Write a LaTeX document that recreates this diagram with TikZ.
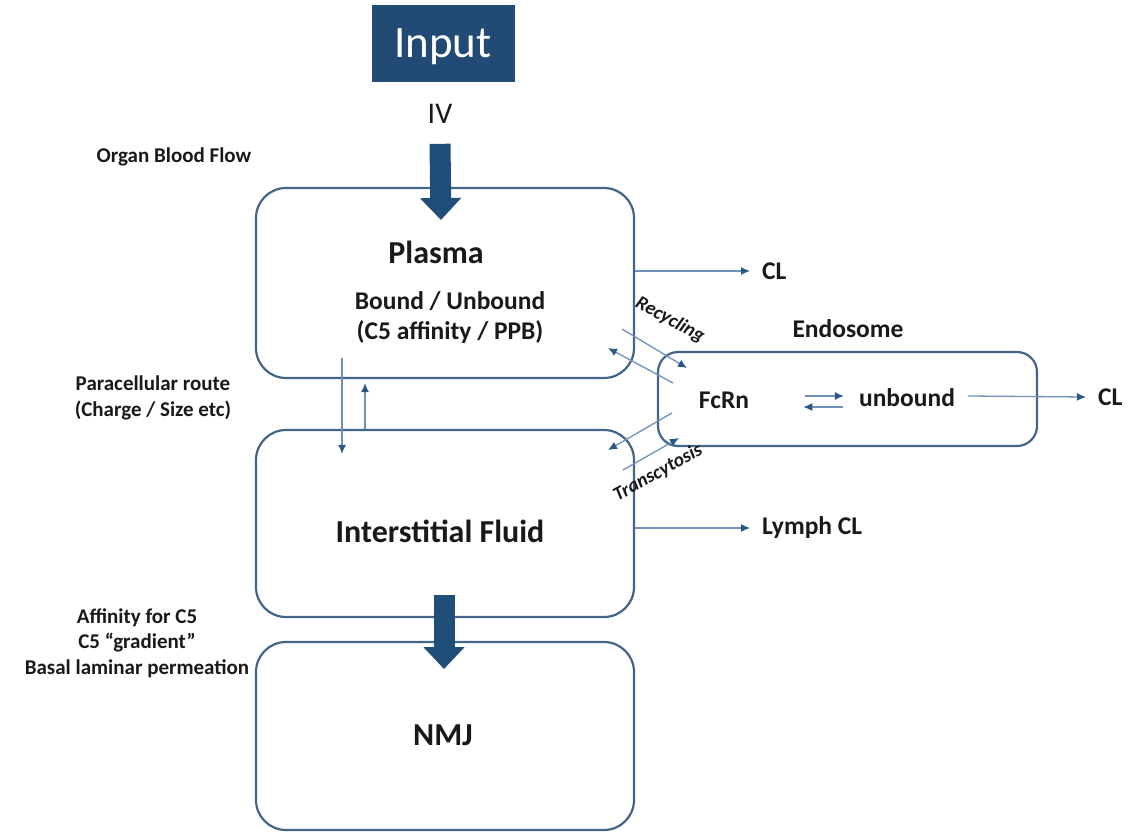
\documentclass[tikz,border=0pt]{standalone}
\usepackage{fontspec}
\setmainfont{Carlito}
\usepackage{xcolor}
\usepackage{tikz}
\usetikzlibrary{arrows.meta}

\definecolor{boxline}{RGB}{66,101,137}
\definecolor{thinline}{RGB}{110,146,184}
\definecolor{tipblue}{RGB}{42,88,134}
\definecolor{bigblue}{RGB}{31,78,121}
\definecolor{inputfill}{RGB}{33,75,116}
\definecolor{txtcol}{RGB}{25,25,25}

\newcommand{\bigfont}{\bfseries\fontsize{32}{36}\selectfont}
\newcommand{\midfont}{\bfseries\fontsize{25.5}{30}\selectfont}
\newcommand{\smallfont}{\bfseries\fontsize{21}{25.5}\selectfont}
\newcommand{\slantfont}{\bfseries\itshape\fontsize{19.5}{22}\selectfont}

\begin{document}
\begin{tikzpicture}[
  x=1pt,y=-1pt,
  >=Latex,
  compbox/.style={draw=boxline,line width=2.2pt,rounded corners=30pt,
                  minimum width=378pt,minimum height=190pt},
  lbl/.style={inner sep=0pt,align=center,text=txtcol,font=\smallfont},
  endlbl/.style={lbl,anchor=west,inner xsep=12pt},
  thinarrow/.style={-{Latex[length=9pt,width=8pt,color=tipblue]},
                    draw=thinline,line width=1.3pt},
  bigarrow/.style={-{Triangle[length=22pt,width=40pt]},draw=bigblue,
                   line width=21pt}
]
 \useasboundingbox (0,0) rectangle (1147,832);

 % input
 \node[fill=inputfill,minimum width=143pt,minimum height=77pt,text=white,
       text depth=0pt,font=\fontsize{45}{48}\selectfont]
       (input) at (443,43.5) {Input};
 \node[lbl,font=\fontsize{30}{32}\selectfont] (iv) at (440,114) {IV};
 \node[lbl] (obf) at (174,157) {Organ Blood Flow};

 % compartments
 \node[compbox] (plasma) at (445,283) {};
 \node[compbox,minimum height=187pt] (isf) at (445,523.5) {};
 \node[compbox,minimum height=188pt] (nmj) at (445,736) {};
 \node[compbox,minimum width=379pt,minimum height=94pt,
       rounded corners=20pt] (endo) at (847.5,399) {};

 \node[lbl,font=\bigfont] (plasmaname) at (436,252) {Plasma};
 \node[lbl,font=\midfont] (plasmasub) at (450,318)
       {Bound / Unbound\\(C5 affinity / PPB)};
 \node[lbl,font=\bigfont] (isfname) at (440,531) {Interstitial Fluid};
 \node[lbl,font=\bigfont] (nmjname) at (443,735) {NMJ};
 \node[lbl,font=\midfont] (endoname) at (848,329) {Endosome};
 \node[lbl,font=\midfont] (fcrn) at (724,400) {FcRn};
 \node[lbl,font=\midfont] (unbound) at (907,398) {unbound};

 % side notes
 \node[lbl] (para) at (153,398) {Paracellular route\\(Charge / Size etc)};
 \node[lbl] (aff) at (137,643)
       {Affinity for C5\\C5 ``gradient''\\Basal laminar permeation};

 % clearance targets
 \node[endlbl,font=\midfont] (clplasma) at (750,271) {CL};
 \node[endlbl,font=\midfont] (lymph) at (750,528) {Lymph CL};
 \node[endlbl,font=\midfont] (clendo) at (1086,397) {CL};

 % big flows
 \coordinate (ivtip) at (441,220);
 \coordinate (nmjtip) at (444,669);
 \draw[bigarrow] ([yshift=-20pt]iv.south) -- (ivtip);
 \draw[bigarrow] (444,595) -- (nmjtip);

 % paracellular exchange
 \draw[thinarrow] ([xshift=-103pt,yshift=21pt]plasma.south) --
   ([xshift=-103pt,yshift=-25pt]isf.north);
 \draw[thinarrow] ([xshift=-80pt]isf.north) --
   ([xshift=-80pt,yshift=-4pt]plasma.south);

 % clearance
 \draw[thinarrow] ([yshift=12pt]plasma.east) -- (clplasma.west);
 \draw[thinarrow] ([yshift=-4.5pt]isf.east) -- (lymph.west);
 \draw[thinarrow] ([xshift=13pt,yshift=2pt]unbound.east) -- (clendo.west);

 % FcRn binding
 \draw[thinarrow] ([xshift=56pt,yshift=4pt]fcrn.east) --
   ([xshift=-15pt,yshift=2pt]unbound.west);
 \draw[thinarrow] ([xshift=-16pt,yshift=-9pt]unbound.west) --
   ([xshift=54pt,yshift=-7pt]fcrn.east);

 % recycling and transcytosis
 \coordinate (rcin) at (622,329);
 \coordinate (rcintip) at (687,368);
 \coordinate (rcout) at (673,383);
 \coordinate (rcouttip) at (608,348);
 \coordinate (tcout) at (672,413);
 \coordinate (tcouttip) at (608,450);
 \coordinate (tcin) at (623,470);
 \coordinate (tcintip) at (679,438);
 \draw[thinarrow] (rcin) -- (rcintip);
 \draw[thinarrow] (rcout) -- (rcouttip);
 \draw[thinarrow] (tcout) -- (tcouttip);
 \draw[thinarrow] (tcin) -- (tcintip);
 \node[lbl,font=\slantfont,rotate=-29] (recyc) at (670,320) {Recycling};
 \node[lbl,font=\slantfont,rotate=29] (transc) at (658,473) {Transcytosis};
\end{tikzpicture}
\end{document}
